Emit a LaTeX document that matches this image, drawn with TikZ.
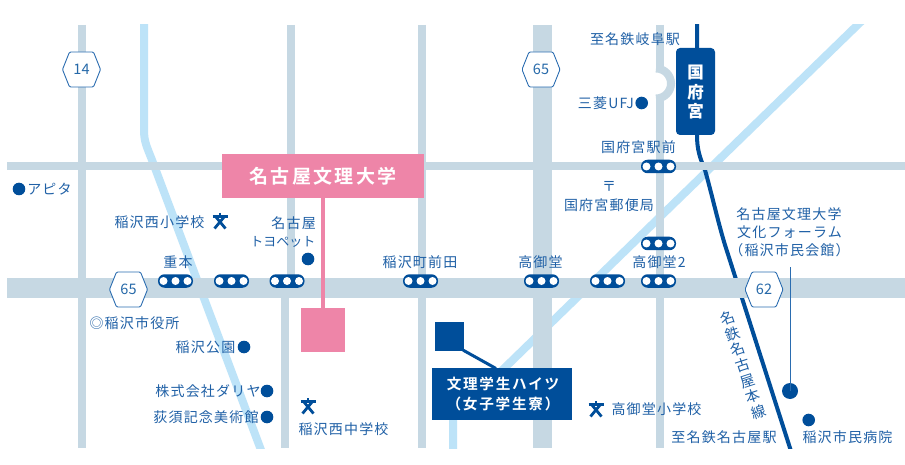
\documentclass[tikz,border=0pt]{standalone}
\usepackage{fontspec}
\setmainfont{Noto Sans CJK JP}
\newfontfamily\lblfont[LetterSpace=8.5]{Noto Sans CJK JP}
\newfontfamily\boldlbl[LetterSpace=12,BoldFont={Noto Sans CJK JP Bold}]{Noto Sans CJK JP}
\definecolor{roadc}{HTML}{C6D8E3}
\definecolor{riverc}{HTML}{BDE3F8}
\definecolor{navy}{HTML}{004E9A}
\definecolor{txtc}{HTML}{1F60A6}
\definecolor{hexc}{HTML}{2A6CB0}
\definecolor{pinkc}{HTML}{EE85A8}
\tikzset{
 x=1pt,y=-1pt,
 road/.style={draw=roadc,line width=8pt},
 bigroad/.style={draw=roadc,line width=19.5pt},
 river/.style={draw=riverc,line width=8pt},
 rail/.style={draw=navy,line width=4pt},
 lbl/.style={inner sep=0pt,text=txtc,font=\lblfont\fontsize{14}{15}\selectfont,text height=11.9pt,text depth=1.7pt},
 dot/.style={circle,fill=navy,inner sep=0pt,minimum size=12.6pt},
 pill/.style={draw=none,fill=navy,rounded corners=6.5pt,minimum width=35pt,minimum height=13.5pt,inner sep=0pt},
 hexbox/.style={draw=hexc,fill=white,line width=0.9pt,rounded corners=1.2pt},
 hextxt/.style={inner sep=0pt,text=navy!85!white,font=\fontsize{14.5}{15}\selectfont},
 boldwhite/.style={inner sep=0pt,text=white,font=\boldlbl\bfseries}
}
\newcommand{\hexsign}[4]{%
 \draw[hexbox,shift={(#2,#3)}] (-19,0) -- (-12,-17.5) -- (12,-17.5) -- (19,0) -- (12,17.5) -- (-12,17.5) -- cycle;
 \node[hextxt] (#1) at (#2,#3) {#4};}
\newcommand{\stationpill}[3]{%
 \node[pill] (#1) at (#2,#3) {};
 \fill[white] ([xshift=-12pt]#1.center) circle (4pt);
 \fill[white] (#1.center) circle (4pt);
 \fill[white] ([xshift=12pt]#1.center) circle (4pt);}
\newcommand{\schoolmark}[2]{%
 \begin{scope}[shift={(#1,#2)},draw=navy,line width=2.8pt]
  \draw (-7.5,-4.5) -- (7.5,-4.5);
  \draw (0,-8) -- (0,-4.5);
  \draw (-4.5,-4.5) -- (5.5,7.5);
  \draw (4.5,-4.5) -- (-5.5,7.5);
 \end{scope}}
\begin{document}
\begin{tikzpicture}
\useasboundingbox (0,0) rectangle (905,465);
\fill[white] (0,0) rectangle (905,465);
\begin{scope}
\clip (0,25) rectangle (905,448);
% rivers
\draw[river] (144,15) -- (144,130) .. controls (144,142) and (147,147) .. (152,160) -- (264,458);
\draw[river,line join=round] (867.8,15) -- (453,418) -- (453,458);
% railway
\draw[rail] (697,15) -- (697,135) .. controls (697,150) and (700,158) .. (705,170) .. controls (712,195) and (718,222) .. (725,245) -- (793.2,458);
\end{scope}
% roads
\draw[road] (82,25) -- (82,448);
\draw[road] (291,25) -- (291,288);
\draw[road] (284.5,288) -- (284.5,448);
\draw[road] (422,25) -- (422,448);
\draw[bigroad] (542.5,25) -- (542.5,448);
\draw[road] (660,25) -- (660,68.5);
\draw[road] (656,68.5) .. controls (664.3,68.5) and (671,75.2) .. (671,83.5) .. controls (671,91.8) and (664.3,98.5) .. (656,98.5);
\draw[road] (660,98.5) -- (660,448);
\draw[road] (7,166) -- (905,166);
\draw[bigroad] (7,288) -- (905,288);
% route signs
\hexsign{h14}{81.5}{69.5}{14}
\hexsign{h65a}{541}{69.5}{65}
\hexsign{h65b}{128.5}{289.5}{65}
\hexsign{h62}{764}{289.5}{62}
% bus stops
\stationpill{s1}{175.5}{281}
\stationpill{s2}{231.5}{281}
\stationpill{s3}{287}{281}
\stationpill{s4}{420.5}{281}
\stationpill{s5}{541.5}{281}
\stationpill{s6}{607.5}{281}
\stationpill{s7}{658.5}{281}
\stationpill{s8}{658.5}{243.5}
\stationpill{s9}{658.5}{166.5}
% university
\node[fill=pinkc,inner sep=0pt,minimum width=44pt,minimum height=44pt] (usq) at (323,330) {};
\node[fill=pinkc,inner sep=0pt,minimum width=202pt,minimum height=44pt,text=white,font=\boldlbl\bfseries\fontsize{19}{20}\selectfont] (uni) at (323,176) {名古屋文理大学};
\draw[draw=pinkc,line width=3.5pt] (uni.south) -- (usq.north);
% dormitory
\node[fill=navy,inner sep=0pt,minimum width=29pt,minimum height=29pt] (dsq) at (449.5,336.5) {};
\node[fill=navy,inner sep=0pt,minimum width=139.5pt,minimum height=52pt] (dorm) at (502,394) {};
\coordinate (dl) at (496,368.5);
\draw[draw=navy,line width=3pt] (dsq.south east) ++(-1,-1) -- (dl);
\node[boldwhite,font=\boldlbl\bfseries\fontsize{14.6}{16}\selectfont] (d1) at (503,384) {文理学生ハイツ};
\node[boldwhite,font=\boldlbl\bfseries\fontsize{14.6}{16}\selectfont] (d2) at (503,404) {（女子学生寮）};
% Kofu-no-miya station
\node[fill=navy,rounded corners=4pt,inner sep=0pt,minimum width=39pt,minimum height=87pt] (kst) at (695.5,91.5) {};
\node[inner sep=0pt,text=white,font=\bfseries\fontsize{16.5}{18}\selectfont] (k1) at (695.5,73) {国};
\node[inner sep=0pt,text=white,font=\bfseries\fontsize{16.5}{18}\selectfont] (k2) at (695.5,92) {府};
\node[inner sep=0pt,text=white,font=\bfseries\fontsize{16.5}{18}\selectfont] (k3) at (695.5,111) {宮};
% labels top right
\node[lbl] (a1) at (635,39) {至名鉄岐阜駅};
\node[lbl,anchor=east] (a2) at (634,103) {三菱UFJ};
\node[dot] (a2d) at (641.7,103) {};
\node[lbl] (a3) at (638.5,147) {国府宮駅前};
\node[lbl] (a4) at (609,186) {〒};
\node[lbl] (a5) at (609,205) {国府宮郵便局};
\node[lbl] (a6) at (789,214) {名古屋文理大学};
\node[lbl] (a7) at (789.5,232) {文化フォーラム};
\node[lbl] (a8) at (789.5,250) {（稲沢市民会館）};
\coordinate (a8b) at (790,267);
\node[dot,minimum size=16pt] (bd) at (790,391) {};
\draw[draw=hexc,line width=1pt] (a8b) -- (bd.center);
\node[dot] (hd) at (808.7,420) {};
\node[lbl] (a9) at (847.5,437) {稲沢市民病院};
\node[lbl] (a10) at (724,437) {至名鉄名古屋駅};
\node[lbl] (a11) at (656.5,409) {高御堂小学校};
\schoolmark{596}{409}
% line name
\node[inner sep=0pt,text=txtc,rotate=18,align=center,font=\fontsize{14.5}{16.4}\selectfont] (ln) at (743,365) {名\\鉄\\名\\古\\屋\\本\\線};
% labels left
\node[dot] (b1d) at (19,189) {};
\node[lbl] (b1) at (49.5,189) {アピタ};
\node[lbl] (b2) at (159.5,222) {稲沢西小学校};
\schoolmark{220}{221}
\node[lbl,anchor=east] (b3) at (316,223) {名古屋};
\node[lbl,anchor=east,font=\fontsize{13}{15}\selectfont] (b4) at (315.5,241) {トヨペット};
\node[dot] (b4d) at (308,259) {};
\node[lbl] (c1) at (178,262) {重本};
\node[lbl] (c2) at (420,262) {稲沢町前田};
\node[lbl] (c3) at (540.5,262) {高御堂};
\node[lbl] (c4) at (659,262) {高御堂2};
\node[lbl] (e1) at (134.5,323) {◎稲沢市役所};
\node[lbl] (e2) at (205.5,347) {稲沢公園};
\node[dot] (e2d) at (244,347) {};
\node[lbl] (e3) at (208,391) {株式会社ダリヤ};
\node[dot] (e3d) at (267,391) {};
\node[lbl] (e4) at (206,417) {荻須記念美術館};
\node[dot] (e4d) at (267,417) {};
\schoolmark{308}{406}
\node[lbl] (e5) at (343.5,429) {稲沢西中学校};
\end{tikzpicture}
\end{document}
